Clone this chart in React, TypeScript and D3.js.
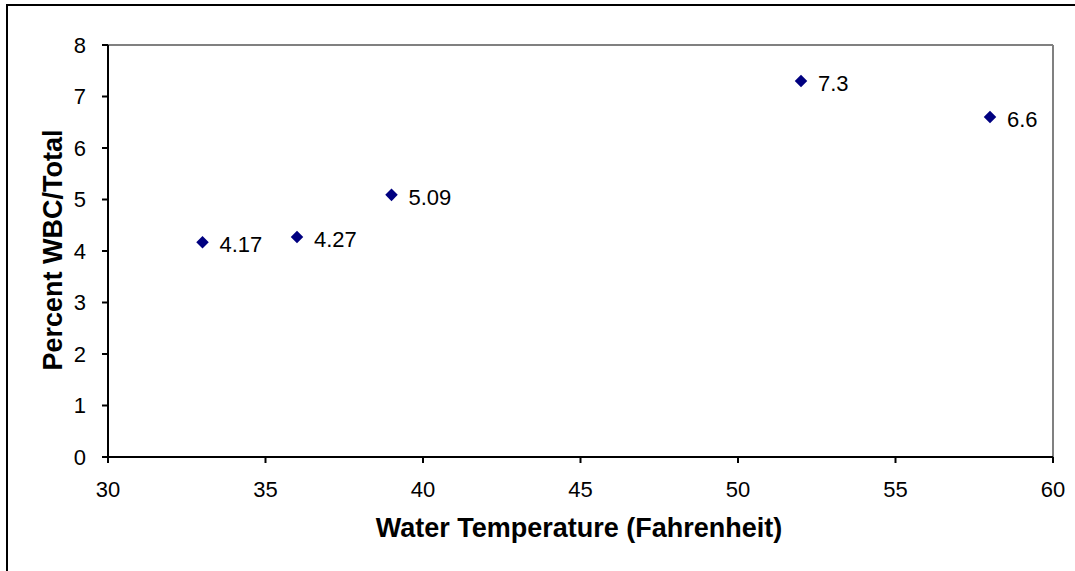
import React from "react";
import * as d3 from "d3";

const temps = [33, 36, 39, 52, 58];
const percents = [4.17, 4.27, 5.09, 7.3, 6.6];
const labels = ["4.17", "4.27", "5.09", "7.3", "6.6"];
const xTicks = [30, 35, 40, 45, 50, 55, 60];
const yTicks = [0, 1, 2, 3, 4, 5, 6, 7, 8];

export default function App() {
  const left = 108, right = 1053, top = 45, bottom = 457;
  const x = d3.scaleLinear().domain([30, 60]).range([left, right]);
  const y = d3.scaleLinear().domain([0, 8]).range([bottom, top]);
  const diamond = d3.symbol().type(d3.symbolDiamond2).size(100)();
  const font = "Arial, 'Liberation Sans', sans-serif";
  return (
    <svg width={1075} height={571} style={{ position: "absolute", left: 0, top: 0, background: "#fff" }} fontFamily={font}>
      <rect x={7} y={5} width={1200} height={700} fill="#fff" stroke="#000" strokeWidth={2} />
      {/* plot border */}
      <line x1={left} y1={top} x2={right} y2={top} stroke="#808080" strokeWidth={2} />
      <line x1={right} y1={top} x2={right} y2={bottom} stroke="#808080" strokeWidth={2} />
      {/* axes */}
      <line x1={left} y1={top} x2={left} y2={bottom} stroke="#000" strokeWidth={2} />
      <line x1={left} y1={bottom} x2={right} y2={bottom} stroke="#000" strokeWidth={2} />
      {yTicks.map((t) => (
        <g key={"y" + t}>
          <line x1={left - 6} x2={left} y1={y(t)} y2={y(t)} stroke="#000" strokeWidth={2} />
          <text x={86} y={y(t)} dy="0.35em" textAnchor="end" fontSize={22}>{t}</text>
        </g>
      ))}
      {xTicks.map((t) => (
        <g key={"x" + t}>
          <line x1={x(t)} x2={x(t)} y1={bottom} y2={bottom + 6} stroke="#000" strokeWidth={2} />
          <text x={x(t)} y={bottom + 32.5} dy="0.35em" textAnchor="middle" fontSize={22}>{t}</text>
        </g>
      ))}
      {temps.map((t, i) => (
        <g key={"p" + i}>
          <path d={diamond ?? ""} transform={`translate(${x(t)},${y(percents[i])})`} fill="#000080" />
          <text x={x(t) + 17} y={y(percents[i]) + 2.5} dy="0.35em" fontSize={22}>{labels[i]}</text>
        </g>
      ))}
      <text x={579} y={527.5} dy="0.35em" textAnchor="middle" fontSize={27} fontWeight="bold">Water Temperature (Fahrenheit)</text>
      <text transform={`translate(53,250) rotate(-90)`} dy="0.35em" textAnchor="middle" fontSize={27} fontWeight="bold">Percent WBC/Total</text>
    </svg>
  );
}
